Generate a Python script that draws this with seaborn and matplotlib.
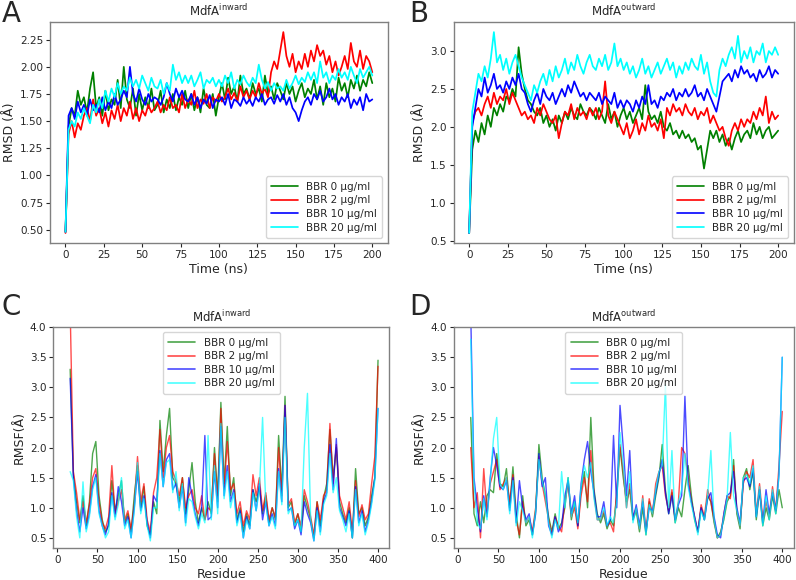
# -*- coding: utf-8 -*-
"""
MdfA RMSD / RMSF comparison with BBR concentrations (4 panels)
"""
import numpy as np
import matplotlib
matplotlib.use("Agg")
import matplotlib.pyplot as plt
import seaborn as sns

# ==============================================================================
# data
# ==============================================================================
time_ns = np.arange(0, 201, 2)      # 101 points
residue = np.arange(16, 401, 4)     # 97 points

series_labels = ["BBR 0 µg/ml", "BBR 2 µg/ml", "BBR 10 µg/ml", "BBR 20 µg/ml"]
series_colors = ["green", "red", "blue", "cyan"]

# --- A: RMSD inward ---
rmsd_in_0 = [0.48, 1.45, 1.62, 1.55, 1.78, 1.65, 1.72, 1.58, 1.80, 1.95,
             1.62, 1.72, 1.55, 1.78, 1.60, 1.70, 1.65, 1.88, 1.62, 2.00,
             1.70, 1.62, 1.80, 1.55, 1.75, 1.60, 1.72, 1.62, 1.80, 1.60,
             1.65, 1.78, 1.58, 1.70, 1.62, 1.75, 1.60, 1.72, 1.65, 1.78,
             1.62, 1.75, 1.60, 1.72, 1.58, 1.80, 1.65, 1.62, 1.75, 1.55,
             1.72, 1.85, 1.70, 1.90, 1.75, 1.82, 1.68, 1.92, 1.75, 1.80,
             1.70, 1.85, 1.75, 1.80, 1.68, 1.92, 1.75, 1.82, 1.70, 1.85,
             1.78, 1.70, 1.85, 1.75, 1.82, 1.68, 1.78, 1.85, 1.72, 1.80,
             1.75, 1.88, 1.70, 1.82, 1.65, 1.85, 1.72, 1.80, 1.68, 1.90,
             1.78, 1.85, 1.72, 1.88, 1.80, 1.92, 1.78, 1.88, 1.82, 1.95,
             1.85]
rmsd_in_2 = [0.47, 1.38, 1.50, 1.35, 1.48, 1.42, 1.55, 1.62, 1.50, 1.70,
             1.55, 1.62, 1.48, 1.58, 1.45, 1.60, 1.52, 1.65, 1.50, 1.62,
             1.55, 1.68, 1.52, 1.62, 1.50, 1.60, 1.55, 1.65, 1.58, 1.62,
             1.68, 1.58, 1.65, 1.60, 1.72, 1.62, 1.65, 1.58, 1.75, 1.62,
             1.70, 1.65, 1.78, 1.62, 1.70, 1.66, 1.75, 1.62, 1.72, 1.68,
             1.75, 1.68, 1.72, 1.80, 1.70, 1.76, 1.68, 1.82, 1.72, 1.78,
             1.70, 1.78, 1.72, 1.85, 1.75, 1.80, 1.72, 1.95, 2.05, 1.98,
             2.15, 2.32, 2.10, 2.00, 2.12, 1.95, 2.05, 1.98, 2.12, 2.00,
             2.15, 2.05, 2.20, 2.10, 2.15, 2.02, 2.10, 1.95, 2.05, 1.92,
             2.00, 2.10, 1.98, 2.22, 2.05, 2.00, 2.15, 1.98, 2.10, 2.05,
             1.95]
rmsd_in_10 = [0.48, 1.55, 1.62, 1.52, 1.68, 1.58, 1.65, 1.55, 1.70, 1.60,
              1.65, 1.58, 1.72, 1.60, 1.68, 1.62, 1.75, 1.65, 1.70, 1.78,
              1.72, 2.00, 1.75, 1.68, 1.80, 1.70, 1.65, 1.75, 1.68, 1.72,
              1.70, 1.65, 1.72, 1.85, 1.75, 1.68, 1.80, 1.72, 1.78, 1.70,
              1.68, 1.75, 1.65, 1.72, 1.62, 1.70, 1.66, 1.74, 1.62, 1.70,
              1.68, 1.72, 1.65, 1.75, 1.62, 1.70, 1.68, 1.64, 1.72, 1.66,
              1.70, 1.64, 1.72, 1.68, 1.75, 1.65, 1.70, 1.72, 1.66, 1.74,
              1.68, 1.75, 1.65, 1.72, 1.62, 1.58, 1.50, 1.60, 1.68, 1.72,
              1.65, 1.75, 1.70, 1.78, 1.68, 1.72, 1.80, 1.70, 1.75, 1.65,
              1.72, 1.68, 1.75, 1.62, 1.70, 1.65, 1.72, 1.60, 1.75, 1.68,
              1.70]
rmsd_in_20 = [0.48, 1.42, 1.50, 1.45, 1.58, 1.52, 1.62, 1.55, 1.48, 1.65,
              1.58, 1.70, 1.62, 1.78, 1.68, 1.80, 1.72, 1.85, 1.75, 1.82,
              1.78, 1.90, 1.82, 1.88, 1.80, 1.92, 1.85, 1.78, 1.90, 1.82,
              1.80, 1.88, 1.75, 1.85, 1.78, 2.02, 1.88, 1.95, 1.85, 1.92,
              1.85, 1.92, 1.82, 1.88, 1.95, 1.80, 1.88, 1.85, 1.90, 1.82,
              1.88, 1.82, 1.92, 1.85, 1.95, 1.80, 1.88, 1.84, 1.92, 1.86,
              1.82, 1.90, 1.85, 2.02, 1.88, 1.80, 1.86, 1.78, 1.85, 1.80,
              1.82, 1.78, 1.88, 1.80, 1.85, 1.92, 1.84, 1.90, 1.86, 1.95,
              1.88, 1.95, 1.85, 2.05, 1.90, 1.95, 1.85, 1.92, 1.88, 1.98,
              1.90, 1.95, 1.88, 2.00, 1.92, 1.85, 1.98, 1.90, 1.95, 2.00,
              1.92]

# --- B: RMSD outward ---
rmsd_out_0 = [0.60, 1.70, 1.95, 1.80, 2.05, 1.90, 2.15, 2.00, 2.25, 2.15,
              2.30, 2.20, 2.40, 2.35, 2.50, 2.40, 3.05, 2.70, 2.50, 2.35,
              2.30, 2.20, 2.15, 2.25, 2.05, 2.15, 2.00, 2.10, 1.95, 2.15,
              2.05, 2.20, 2.10, 2.25, 2.15, 2.10, 2.30, 2.20, 2.15, 2.25,
              2.20, 2.10, 2.25, 2.15, 2.05, 2.30, 2.10, 2.20, 2.00, 2.15,
              2.25, 2.10, 2.20, 2.05, 2.15, 2.25, 2.10, 2.55, 2.20, 2.10,
              2.15, 2.05, 2.20, 2.00, 1.95, 2.05, 1.90, 1.95, 1.85, 1.95,
              1.85, 1.90, 1.80, 1.85, 1.70, 1.75, 1.45, 1.70, 1.95, 1.85,
              1.95, 1.80, 1.90, 1.75, 1.85, 1.70, 1.85, 1.95, 1.80, 1.90,
              1.95, 1.85, 2.05, 1.90, 2.00, 1.85, 1.95, 2.00, 1.85, 1.90,
              1.95]
rmsd_out_2 = [0.60, 2.05, 2.20, 2.25, 2.15, 2.30, 2.40, 2.25, 2.45, 2.30,
              2.40, 2.35, 2.50, 2.30, 2.45, 2.35, 2.25, 2.15, 2.20, 2.10,
              2.15, 2.05, 2.25, 2.15, 2.30, 2.20, 2.10, 2.05, 2.15, 1.85,
              2.05, 2.20, 2.15, 2.30, 2.10, 2.25, 2.15, 2.20, 2.10, 2.25,
              2.15, 2.25, 2.10, 2.20, 2.60, 2.15, 2.05, 2.20, 2.10, 2.00,
              1.90, 2.05, 1.85, 1.95, 2.10, 1.90, 2.05, 1.95, 2.15, 2.00,
              2.05, 1.95, 2.10, 1.85, 2.25, 2.15, 2.30, 2.20, 2.25, 2.15,
              2.30, 2.20, 2.15, 2.25, 2.10, 2.20, 2.15, 2.25, 2.05, 2.15,
              2.05, 1.95, 2.00, 1.85, 1.75, 1.95, 2.05, 1.95, 2.10, 2.00,
              2.10, 2.05, 2.20, 2.10, 2.25, 2.15, 2.40, 2.05, 2.20, 2.10,
              2.15]
rmsd_out_10 = [0.60, 2.00, 2.25, 2.50, 2.40, 2.65, 2.45, 2.55, 2.70, 2.50,
               2.55, 2.45, 2.60, 2.50, 2.65, 2.55, 2.70, 2.50, 2.45, 2.30,
               2.20, 2.35, 2.45, 2.30, 2.50, 2.40, 2.35, 2.45, 2.30, 2.40,
               2.50, 2.40, 2.55, 2.45, 2.60, 2.50, 2.40, 2.45, 2.35, 2.45,
               2.40, 2.35, 2.45, 2.30, 2.40, 2.35, 2.30, 2.45, 2.25, 2.35,
               2.25, 2.35, 2.30, 2.20, 2.35, 2.25, 2.40, 2.30, 2.55, 2.30,
               2.35, 2.25, 2.40, 2.35, 2.45, 2.40, 2.50, 2.35, 2.45, 2.40,
               2.50, 2.40, 2.45, 2.55, 2.40, 2.45, 2.35, 2.50, 2.40, 2.30,
               2.20, 2.40, 2.60, 2.65, 2.70, 2.60, 2.75, 2.65, 2.80, 2.70,
               2.75, 2.65, 2.70, 2.60, 2.75, 2.65, 2.70, 2.80, 2.65, 2.75,
               2.70]
rmsd_out_20 = [0.60, 2.20, 2.45, 2.70, 2.60, 2.80, 2.65, 2.90, 3.25, 2.85,
               2.95, 2.75, 2.90, 2.70, 2.85, 2.95, 2.80, 2.65, 2.55, 2.45,
               2.35, 2.55, 2.45, 2.60, 2.70, 2.55, 2.75, 2.60, 2.80, 2.65,
               2.75, 2.90, 2.70, 2.85, 2.75, 2.95, 2.80, 2.70, 2.85, 2.95,
               2.80, 2.75, 2.90, 2.80, 2.95, 2.75, 2.85, 3.10, 2.80, 2.90,
               2.75, 2.85, 2.70, 2.80, 2.65, 2.75, 2.90, 2.70, 2.80, 2.65,
               2.75, 2.85, 2.70, 2.80, 2.90, 2.75, 2.85, 2.65, 2.80, 2.70,
               2.85, 2.75, 2.90, 2.80, 2.75, 2.95, 2.70, 2.85, 2.60, 2.45,
               2.40, 2.75, 2.90, 2.80, 2.95, 3.05, 2.90, 3.20, 2.85, 3.00,
               2.90, 3.05, 2.85, 3.00, 2.95, 3.10, 2.85, 3.00, 2.95, 3.05,
               2.95]

# --- C: RMSF inward ---
rmsf_in_0 = [3.30, 1.55, 1.10, 0.75, 1.20, 0.70, 1.10, 1.90, 2.10, 1.20,
             0.80, 0.60, 0.70, 1.45, 0.95, 1.20, 1.45, 0.75, 0.90, 0.60,
             1.20, 1.70, 1.00, 1.35, 0.70, 0.55, 1.10, 0.90, 2.45, 1.60,
             2.20, 2.65, 1.50, 1.40, 1.10, 1.50, 0.90, 1.30, 1.75, 1.10,
             0.75, 1.00, 0.80, 1.10, 0.90, 2.00, 1.20, 2.75, 1.40, 2.35,
             1.20, 1.50, 0.80, 1.00, 0.60, 0.90, 0.70, 1.30, 1.10, 1.35,
             0.90, 1.20, 0.75, 1.00, 0.80, 2.20, 1.30, 2.85, 1.00, 1.10,
             0.70, 0.90, 0.60, 1.20, 1.00, 0.80, 0.50, 1.10, 0.70, 1.15,
             1.40, 2.30, 1.50, 2.00, 1.10, 0.90, 0.75, 1.00, 0.50, 1.65,
             0.90, 1.00, 0.70, 0.85, 1.20, 1.50, 3.45]
rmsf_in_2 = [4.30, 1.60, 1.25, 0.80, 1.10, 0.75, 1.05, 1.50, 1.65, 1.10,
             0.75, 0.65, 0.85, 1.70, 0.90, 1.10, 1.30, 0.80, 0.95, 0.65,
             1.05, 1.85, 1.10, 1.40, 0.80, 0.60, 1.25, 1.50, 2.30, 1.50,
             2.00, 2.20, 1.60, 1.45, 1.20, 1.50, 1.00, 1.20, 1.30, 1.00,
             0.90, 1.20, 0.80, 1.00, 0.95, 1.90, 1.10, 2.65, 1.30, 2.10,
             1.30, 1.40, 0.90, 1.10, 0.70, 0.95, 0.80, 1.55, 1.20, 1.50,
             0.95, 1.25, 0.80, 1.00, 0.85, 2.00, 1.20, 2.70, 1.05, 1.15,
             0.75, 0.90, 0.70, 1.30, 1.10, 0.85, 0.55, 1.10, 0.80, 1.20,
             1.30, 2.40, 1.40, 2.05, 1.20, 1.00, 0.80, 1.10, 0.60, 1.45,
             0.85, 1.05, 0.80, 0.90, 1.40, 1.85, 3.35]
rmsf_in_10 = [3.15, 1.50, 0.95, 0.60, 1.00, 0.65, 0.90, 1.35, 1.55, 0.95,
              0.70, 0.55, 0.75, 1.25, 0.85, 1.35, 1.10, 0.70, 0.85, 0.50,
              1.00, 1.60, 0.95, 1.20, 0.75, 0.50, 1.20, 1.10, 1.95, 1.35,
              1.80, 1.90, 1.30, 1.40, 1.00, 1.35, 0.75, 1.50, 1.20, 0.90,
              0.70, 1.00, 2.20, 0.80, 0.85, 1.60, 1.00, 2.35, 1.20, 1.70,
              1.10, 1.30, 0.75, 0.95, 0.50, 0.85, 0.65, 1.30, 0.95, 1.40,
              0.80, 1.10, 0.70, 0.90, 0.70, 1.65, 1.10, 2.70, 0.95, 1.00,
              0.65, 0.80, 0.55, 1.10, 0.90, 0.75, 0.45, 1.00, 0.60, 1.10,
              1.25, 2.05, 1.30, 2.15, 1.00, 0.85, 0.70, 0.95, 0.50, 1.35,
              0.75, 0.95, 0.60, 0.80, 1.10, 1.50, 2.65]
rmsf_in_20 = [1.60, 1.45, 0.85, 0.50, 1.43, 0.60, 0.85, 1.30, 1.50, 0.90,
              0.70, 0.50, 0.60, 1.20, 0.80, 1.05, 1.50, 0.65, 0.80, 0.50,
              0.95, 1.75, 0.90, 1.15, 0.70, 0.45, 1.00, 1.00, 1.90, 1.35,
              1.75, 1.80, 1.25, 1.60, 0.95, 1.40, 0.70, 1.15, 1.10, 0.85,
              0.65, 0.90, 0.75, 2.20, 0.80, 1.70, 0.90, 2.40, 1.15, 1.60,
              1.00, 1.25, 0.70, 0.90, 0.50, 0.80, 0.65, 1.25, 0.95, 1.30,
              2.50, 1.05, 0.70, 0.85, 0.65, 1.60, 1.05, 2.50, 0.90, 1.00,
              0.70, 0.80, 0.60, 2.00, 2.90, 0.80, 0.45, 0.95, 0.55, 1.05,
              1.20, 1.90, 1.25, 1.50, 0.95, 0.80, 0.60, 0.90, 0.50, 1.30,
              0.70, 0.90, 0.55, 0.75, 1.05, 1.45, 2.65]

# --- D: RMSF outward ---
rmsf_out_0 = [2.50, 0.90, 0.70, 1.10, 0.75, 1.20, 1.30, 1.25, 1.90, 1.40,
              1.35, 1.65, 1.00, 1.68, 0.90, 0.50, 1.20, 0.70, 0.80, 0.55,
              0.95, 2.05, 1.50, 1.20, 0.85, 0.60, 0.90, 0.65, 0.75, 1.00,
              1.50, 0.80, 1.10, 0.70, 1.30, 1.60, 1.00, 2.50, 1.30, 0.90,
              0.75, 0.90, 0.65, 0.80, 0.70, 1.20, 2.00, 1.50, 1.10, 1.30,
              0.80, 0.95, 0.60, 1.00, 0.55, 1.10, 0.85, 1.20, 1.50, 2.05,
              1.30, 0.90, 1.25, 0.75, 1.00, 0.85, 1.30, 1.70, 1.20, 0.80,
              0.60, 1.00, 0.80, 1.20, 1.10, 0.75, 0.50, 0.60, 0.80, 1.10,
              1.20, 1.80, 0.90, 0.65, 1.50, 1.65, 1.30, 1.60, 0.80, 1.30,
              0.70, 1.00, 0.80, 1.20, 0.90, 1.30, 1.00]
rmsf_out_2 = [2.00, 1.00, 1.25, 0.50, 1.65, 0.90, 1.40, 1.60, 1.80, 1.30,
              1.40, 1.50, 1.10, 1.55, 0.80, 0.55, 1.10, 0.75, 0.85, 0.60,
              1.00, 1.85, 1.40, 1.10, 0.80, 0.55, 0.85, 0.70, 0.60, 1.10,
              1.40, 0.85, 1.00, 0.65, 1.20, 1.50, 1.10, 1.95, 1.20, 0.80,
              0.80, 0.95, 0.70, 0.75, 0.60, 1.30, 2.05, 1.60, 1.00, 1.40,
              0.85, 1.00, 0.65, 1.20, 0.60, 1.15, 0.90, 1.40, 1.60, 1.70,
              1.20, 0.95, 1.30, 0.80, 1.10, 2.00, 1.90, 1.50, 1.10, 0.85,
              0.60, 1.05, 0.85, 1.30, 1.10, 0.80, 0.50, 0.55, 0.90, 1.20,
              1.15, 1.70, 0.95, 0.70, 1.40, 1.60, 1.50, 1.80, 0.90, 1.40,
              0.80, 1.10, 0.85, 1.35, 0.95, 1.70, 2.60]
rmsf_out_10 = [4.20, 1.50, 1.00, 0.60, 1.20, 0.85, 1.50, 2.00, 1.70, 1.35,
               1.30, 1.45, 0.95, 1.50, 0.75, 1.45, 1.00, 0.80, 0.90, 0.55,
               0.90, 1.90, 1.35, 1.50, 0.70, 0.55, 0.85, 0.60, 0.70, 1.20,
               1.45, 0.90, 1.20, 0.70, 1.40, 1.80, 2.10, 1.60, 1.25, 0.85,
               0.85, 1.10, 0.70, 0.80, 2.20, 1.00, 2.70, 2.00, 1.20, 1.95,
               0.80, 1.05, 0.70, 1.10, 0.60, 1.00, 0.95, 1.25, 1.55, 1.80,
               1.25, 0.90, 1.20, 0.80, 1.05, 1.20, 2.85, 1.40, 1.10, 0.85,
               0.60, 1.00, 0.80, 1.15, 1.25, 0.85, 0.55, 0.50, 0.90, 1.20,
               1.25, 1.60, 1.00, 0.75, 1.45, 1.50, 1.35, 1.65, 0.85, 1.30,
               0.75, 1.30, 0.90, 1.25, 0.95, 1.55, 3.50]
rmsf_out_20 = [3.80, 1.40, 0.75, 0.65, 1.15, 0.80, 1.45, 2.15, 2.50, 1.40,
               1.30, 1.50, 0.90, 1.45, 0.70, 1.10, 0.95, 0.75, 0.85, 0.50,
               0.95, 1.80, 1.45, 1.20, 0.75, 0.50, 0.80, 0.65, 1.60, 1.00,
               1.50, 0.85, 1.10, 0.75, 1.35, 1.70, 1.50, 1.75, 1.15, 0.80,
               0.80, 1.00, 0.70, 0.85, 0.75, 1.10, 2.25, 1.70, 1.00, 1.60,
               0.75, 1.00, 0.65, 1.15, 0.55, 1.05, 0.90, 1.30, 1.60, 1.70,
               3.05, 1.00, 1.95, 0.75, 1.10, 1.30, 1.90, 1.35, 1.05, 0.80,
               0.55, 0.95, 0.80, 1.20, 1.95, 0.80, 0.50, 0.55, 0.85, 1.15,
               2.25, 1.20, 0.95, 0.70, 1.50, 1.55, 1.40, 1.70, 0.85, 1.35,
               0.70, 1.20, 0.80, 1.30, 0.90, 1.55, 3.50]

# ==============================================================================
# style
# ==============================================================================
sns.set_style("ticks", {"axes.edgecolor": "0.5", "xtick.color": "0.15",
                        "ytick.color": "0.15"})
plt.rcParams['font.family'] = ['DejaVu Sans']
plt.rcParams['axes.linewidth'] = 1.0
plt.rcParams['xtick.major.size'] = 3
plt.rcParams['ytick.major.size'] = 3

TICK_FS = 7.5
LABEL_FS = 9
TITLE_FS = 8.5
LEGEND_FS = 7.5


def draw_panel(ax, x, ys, title, xlabel, ylabel, lw, alpha, legend_loc):
    for y, lab, col in zip(ys, series_labels, series_colors):
        sns.lineplot(x=x, y=y, ax=ax, color=col, label=lab, linewidth=lw, alpha=alpha)
    ax.set_title(title, fontsize=TITLE_FS, pad=4)
    ax.set_xlabel(xlabel, fontsize=LABEL_FS, labelpad=2)
    ax.set_ylabel(ylabel, fontsize=LABEL_FS, labelpad=3)
    ax.tick_params(labelsize=TICK_FS, width=0.8, pad=2)
    leg = ax.legend(loc=legend_loc, fontsize=LEGEND_FS, handlelength=2.6,
                    borderpad=0.5, labelspacing=0.35, framealpha=0.8)
    for line in leg.get_lines():
        line.set_linewidth(1.2)


fig = plt.figure(figsize=(7.96, 5.80), dpi=100)
ax_a = fig.add_axes([0.063, 0.581, 0.424, 0.381])
ax_b = fig.add_axes([0.570, 0.581, 0.427, 0.381])
ax_c = fig.add_axes([0.067, 0.055, 0.422, 0.381])
ax_d = fig.add_axes([0.570, 0.055, 0.427, 0.381])

t_in = r"MdfA$^{\mathrm{inward}}$"
t_out = r"MdfA$^{\mathrm{outward}}$"

draw_panel(ax_a, time_ns, [rmsd_in_0, rmsd_in_2, rmsd_in_10, rmsd_in_20],
           t_in, "Time (ns)", "RMSD (Å)", 1.25, 1.0, "lower right")
ax_a.set_yticks(np.arange(0.5, 2.26, 0.25))
ax_a.yaxis.set_major_formatter(matplotlib.ticker.FormatStrFormatter('%.2f'))

draw_panel(ax_b, time_ns, [rmsd_out_0, rmsd_out_2, rmsd_out_10, rmsd_out_20],
           t_out, "Time (ns)", "RMSD (Å)", 1.25, 1.0, "lower right")
ax_b.set_yticks(np.arange(0.5, 3.01, 0.5))

draw_panel(ax_c, residue, [rmsf_in_0, rmsf_in_2, rmsf_in_10, rmsf_in_20],
           t_in, "Residue", "RMSF(Å)", 1.0, 0.7, "upper center")
draw_panel(ax_d, residue, [rmsf_out_0, rmsf_out_2, rmsf_out_10, rmsf_out_20],
           t_out, "Residue", "RMSF(Å)", 1.0, 0.7, "upper center")
for ax in (ax_c, ax_d):
    ax.set_xlim(-5, 414)
    ax.set_ylim(0.33, 4.0)
    ax.set_yticks(np.arange(0.5, 4.01, 0.5))
    ax.set_xticks(np.arange(0, 401, 50))

# panel letters
fig.text(0.002, 1.0, "A", fontsize=20, va="top", ha="left")
fig.text(0.514, 1.0, "B", fontsize=20, va="top", ha="left")
fig.text(0.002, 0.495, "C", fontsize=20, va="top", ha="left")
fig.text(0.514, 0.495, "D", fontsize=20, va="top", ha="left")

fig.savefig("out.png", dpi=100)
